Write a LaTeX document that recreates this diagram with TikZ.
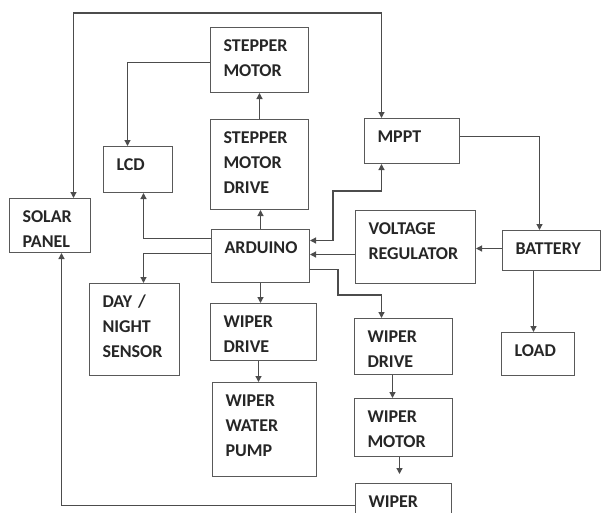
\documentclass[tikz,border=0pt]{standalone}
\usepackage{fontspec}
\setmainfont{Carlito}
\usepackage{tikz}
\usetikzlibrary{arrows.meta, calc}

\tikzset{
  blk/.style 2 args={draw=black!65, line width=1pt, anchor=north west, align=left,
    text width=#1-26pt, text height=11.5pt, text depth=#2-35.5pt,
    inner xsep=13pt, inner ysep=12pt, text=black!85,
    font=\fontsize{18}{25}\selectfont\bfseries},
  con/.style={draw=black!70, line width=1.2pt},
  >={Triangle[width=6pt,length=6pt]}
}

\begin{document}
\begin{tikzpicture}[x=1pt, y=-1pt]
		\useasboundingbox (0,0) rectangle (601,512);
		\node[blk={98pt}{65pt}] at (210,27) (sm) {STEPPER\\MOTOR};
		\node[blk={98pt}{90pt}] at (210,119) (smd) {STEPPER\\MOTOR\\DRIVE};
		\node[blk={69pt}{46pt}] at (103,146) (lcd) {LCD};
		\node[blk={95pt}{45pt}] at (364,118) (mppt) {MPPT};
		\node[blk={81pt}{54pt}] at (9,198) (solar) {SOLAR\\PANEL};
		\node[blk={98pt}{53pt}] at (211,229) (ard) {ARDUINO};
		\node[blk={120pt}{73pt}] at (355,210) (vr) {VOLTAGE\\REGULATOR};
		\node[blk={98pt}{40pt}] at (502,230) (bat) {BATTERY};
		\node[blk={90pt}{92pt}] at (89,283) (dn) {DAY /\\NIGHT\\SENSOR};
		\node[blk={106pt}{57pt}] at (210,303) (wd1) {WIPER\\DRIVE};
		\node[blk={104pt}{94pt}] at (212,382) (pump) {WIPER\\WATER\\PUMP};
		\node[blk={98pt}{56pt}] at (354,318) (wd2) {WIPER\\DRIVE};
		\node[blk={98pt}{58pt}] at (354,398) (wm) {WIPER\\MOTOR};
		\node[blk={96pt}{44pt}] at (355,483) (wp) {WIPER};
		\node[blk={73pt}{43pt}] at (501,332) (load) {LOAD};
		\coordinate (top) at (73,13);
		\coordinate (b1) at (333,191);
		\coordinate (b2) at (338,295);
		\draw[con, <->] ([xshift=23.5pt]solar.north) |- (top) -| ([xshift=-30.5pt]mppt.north);
		\draw[con, ->] ([yshift=-2.5pt]sm.west) -| ([xshift=-10.5pt]lcd.north);
		\draw[con, ->] (smd.north) -- (sm.south);
		\draw[con, ->] (ard.north) -- (ard.north |- smd.south);
		\draw[con, ->] ([yshift=17.5pt]ard.west) -| ([xshift=5.5pt]lcd.south);
		\draw[con, ->] ([yshift=2.5pt]ard.west) -| ([xshift=9pt]dn.north);
		\draw[con, <->] ([yshift=15.5pt]ard.east) -| (b1) -| ([xshift=-30.5pt]mppt.south);
		\draw[con, ->] ([yshift=-7.5pt]vr.west) -- ([yshift=-7.5pt]vr.west -| ard.east);
		\draw[con, ->] ([yshift=2pt]bat.west) -- ([yshift=2pt]bat.west -| vr.east);
		\draw[con, ->] ([yshift=4.5pt]mppt.east) -| ([xshift=-12pt]bat.north);
		\draw[con, ->] ([xshift=-4.5pt]load.north |- bat.south) -- ([xshift=-4.5pt]load.north);
		\draw[con, ->] ([yshift=-13.5pt]ard.east) -| (b2) -| ([xshift=-22pt]wd2.north);
		\draw[con, ->] (ard.south) -- (ard.south |- wd1.north);
		\draw[con, ->] ([xshift=-5pt]wd1.south) -- ([xshift=-5pt]wd1.south |- pump.north);
		\draw[con, ->] ([xshift=-11pt]wd2.south) -- ([xshift=-11pt]wm.north);
		\draw[con, ->, shorten >=9pt] ([xshift=-4pt]wm.south) -- ([xshift=-4pt]wp.north);
		\draw[con, ->] (wp.west) -| ([xshift=11.5pt]solar.south);
		\end{tikzpicture}
\end{document}
